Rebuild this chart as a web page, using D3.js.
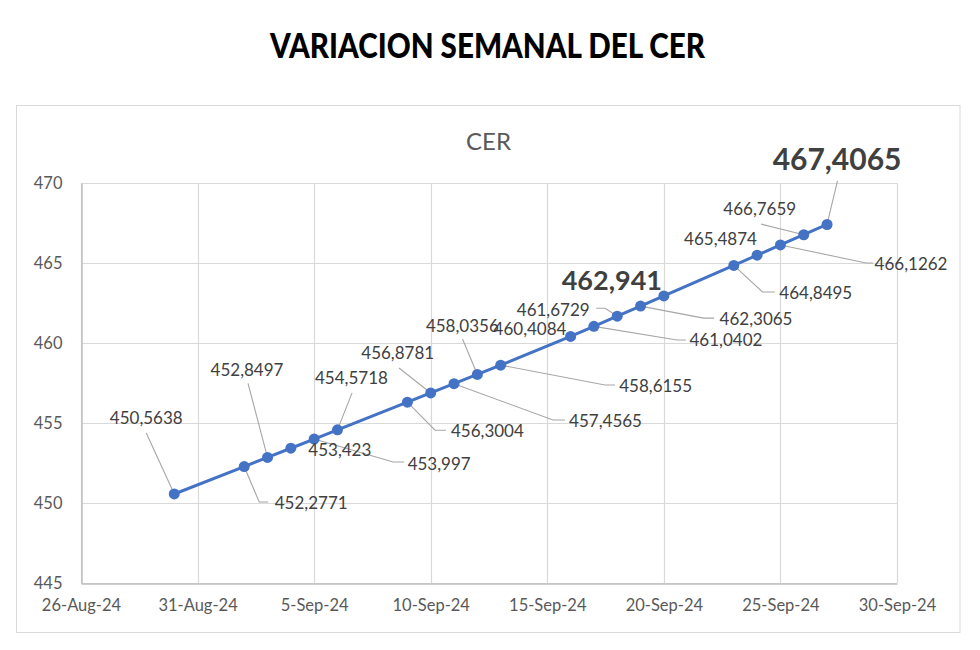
<!DOCTYPE html>
<html>
<head>
<meta charset="utf-8">
<script src="https://cdn.jsdelivr.net/npm/d3@7"></script>
<style>
  html, body { margin: 0; padding: 0; background: #ffffff; }
  svg { display: block; }
  text { font-family: Lato, "Open Sans", "Noto Sans", sans-serif; }
</style>
</head>
<body>
<svg id="chart" width="980" height="650"></svg>
<script>
// ---- data ----
const dates = ["2024-08-30","2024-09-02","2024-09-03","2024-09-04","2024-09-05","2024-09-06",
  "2024-09-09","2024-09-10","2024-09-11","2024-09-12","2024-09-13",
  "2024-09-16","2024-09-17","2024-09-18","2024-09-19","2024-09-20",
  "2024-09-23","2024-09-24","2024-09-25","2024-09-26","2024-09-27"];
const values = [450.5638,452.2771,452.8497,453.423,453.997,454.5718,
  456.3004,456.8781,457.4565,458.0356,458.6155,
  460.4084,461.0402,461.6729,462.3065,462.941,
  464.8495,465.4874,466.1262,466.7659,467.4065];
const labels = ["450,5638","452,2771","452,8497","453,423","453,997","454,5718",
  "456,3004","456,8781","457,4565","458,0356","458,6155",
  "460,4084","461,0402","461,6729","462,3065","462,941",
  "464,8495","465,4874","466,1262","466,7659","467,4065"];
const xTickLabels = ["26-Aug-24","31-Aug-24","5-Sep-24","10-Sep-24","15-Sep-24","20-Sep-24","25-Sep-24","30-Sep-24"];
const xTickDates = ["2024-08-26","2024-08-31","2024-09-05","2024-09-10","2024-09-15","2024-09-20","2024-09-25","2024-09-30"];
const yTicks = [445,450,455,460,465,470];
const titleText = "VARIACION SEMANAL DEL CER";
const chartTitle = "CER";

// ---- label placement (pixel offsets from the point; leader polyline relative to the point) ----
const labelPlacement = [
  {dx:-28, dy:-76, lead:[[-28,-61],[0,0]]},
  {dx:67, dy:36, lead:[[0,0],[15,35.5],[24,35.5]]},
  {dx:-20.5, dy:-88, lead:[[-19.5,-74],[0,0]]},
  {dx:49, dy:1, lead:null},
  {dx:125, dy:24, lead:[[0,0],[79,23],[90,23]]},
  {dx:14, dy:-52, lead:[[14.6,-37],[0,0]]},
  {dx:80, dy:28, lead:[[0,0],[27.6,28],[38.6,28]]},
  {dx:-33, dy:-40, lead:[[-31.7,-25],[0,0]]},
  {dx:151.5, dy:37, lead:[[0,0],[99,36.3],[111,36.3]]},
  {dx:-15, dy:-49, lead:[[-14.8,-35.4],[0,0]]},
  {dx:155, dy:20, lead:[[0,0],[104.3,19.8],[114.3,19.8]]},
  {dx:-40.6, dy:-7.5, lead:null},
  {dx:132, dy:13.6, lead:[[0,0],[83,13.6],[92,13.6]]},
  {dx:-64, dy:-7, lead:[[-21,-8],[-12,-8],[0,0]]},
  {dx:115.5, dy:12, lead:[[0,0],[63,12],[73.5,12]]},
  {dx:-52, dy:-16, lead:null, bold:27},
  {dx:82, dy:27, lead:[[0,0],[28.7,26.6],[41,26.6]]},
  {dx:-36.6, dy:-17, lead:null},
  {dx:130.6, dy:19, lead:[[0,0],[85.6,18],[92.6,18]]},
  {dx:-44, dy:-26, lead:[[-42.8,-10.7],[0,0]]},
  {dx:10, dy:-66, lead:[[10.4,-43.5],[0,0]], bold:30}
];

// ---- layout ----
const W = 980, H = 650;
const plot = {left: 81, right: 897, top: 183, bottom: 583};
const svg = d3.select("#chart");
const parse = d3.utcParse("%Y-%m-%d");

const data = dates.map((d, i) => ({date: parse(d), value: values[i], label: labels[i], place: labelPlacement[i]}));

const x = d3.scaleUtc().domain([parse(xTickDates[0]), parse(xTickDates[xTickDates.length - 1])]).range([plot.left, plot.right]);
const y = d3.scaleLinear().domain([yTicks[0], yTicks[yTicks.length - 1]]).range([plot.bottom, plot.top]);

// background
svg.append("rect").attr("x", 0).attr("y", 0).attr("width", W).attr("height", H).attr("fill", "#fff");

// main title
const tt = svg.append("text")
  .attr("x", 487.5).attr("y", 44)
  .attr("text-anchor", "middle").attr("dominant-baseline", "central")
  .attr("font-size", 35).attr("font-weight", 900).attr("fill", "#000")
  .text(titleText);
tt.attr("textLength", 435).attr("lengthAdjust", "spacingAndGlyphs");

// chart box
svg.append("rect").attr("x", 16.5).attr("y", 105.5).attr("width", 943.5).attr("height", 527)
  .attr("fill", "#fff").attr("stroke", "#d9d9d9").attr("stroke-width", 1);

// chart title
svg.append("text").attr("x", 488.5).attr("y", 140)
  .attr("text-anchor", "middle").attr("dominant-baseline", "central")
  .attr("font-size", 24).attr("fill", "#595959").text(chartTitle);

// gridlines
const xTicks = xTickDates.map(parse);
svg.append("g").selectAll("line.h").data(yTicks).join("line")
  .attr("x1", plot.left).attr("x2", plot.right)
  .attr("y1", d => Math.round(y(d)) + 0.5).attr("y2", d => Math.round(y(d)) + 0.5)
  .attr("stroke", "#d9d9d9").attr("stroke-width", 1.2);
svg.append("g").selectAll("line.v").data(xTicks).join("line")
  .attr("y1", plot.top).attr("y2", plot.bottom)
  .attr("x1", d => Math.round(x(d)) + 0.5).attr("x2", d => Math.round(x(d)) + 0.5)
  .attr("stroke", "#d9d9d9").attr("stroke-width", 1.2);

// axes
const xAxis = d3.axisBottom(x).tickValues(xTicks).tickSize(0).tickPadding(16)
  .tickFormat((d, i) => xTickLabels[i]);
const gx = svg.append("g").attr("transform", `translate(0,${plot.bottom + 0.5})`).call(xAxis);
gx.select(".domain").attr("stroke", "#bfbfbf").attr("stroke-width", 1.5);
gx.selectAll("text").attr("font-size", 16.5).attr("fill", "#595959").attr("font-family", "Lato, sans-serif");

const yAxis = d3.axisLeft(y).tickValues(yTicks).tickSize(0).tickPadding(19);
const gy = svg.append("g").attr("transform", `translate(${plot.left + 0.5},0)`).call(yAxis);
gy.select(".domain").attr("stroke", "#bfbfbf").attr("stroke-width", 1.5);
gy.selectAll("text").attr("font-size", 16.5).attr("fill", "#595959").attr("font-family", "Lato, sans-serif");

// leader lines
const lineGen = d3.line();
svg.append("g").selectAll("path").data(data.filter(d => d.place.lead)).join("path")
  .attr("d", d => lineGen(d.place.lead.map(p => [x(d.date) + p[0], y(d.value) + p[1]])))
  .attr("fill", "none").attr("stroke", "#a6a6a6").attr("stroke-width", 1.1);

// series line
svg.append("path").datum(data)
  .attr("d", d3.line().x(d => x(d.date)).y(d => y(d.value)))
  .attr("fill", "none").attr("stroke", "#4472C4").attr("stroke-width", 3).attr("stroke-linejoin", "round");

// markers
svg.append("g").selectAll("circle").data(data).join("circle")
  .attr("cx", d => x(d.date)).attr("cy", d => y(d.value)).attr("r", 5.5)
  .attr("fill", "#4472C4");

// data labels
svg.append("g").selectAll("text").data(data).join("text")
  .attr("x", d => x(d.date) + d.place.dx).attr("y", d => y(d.value) + d.place.dy)
  .attr("text-anchor", "middle").attr("dominant-baseline", "central")
  .attr("font-size", d => d.place.bold ? d.place.bold : 17)
  .attr("font-weight", d => d.place.bold ? 700 : 400)
  .attr("fill", "#404040")
  .text(d => d.label);
</script>
</body>
</html>
